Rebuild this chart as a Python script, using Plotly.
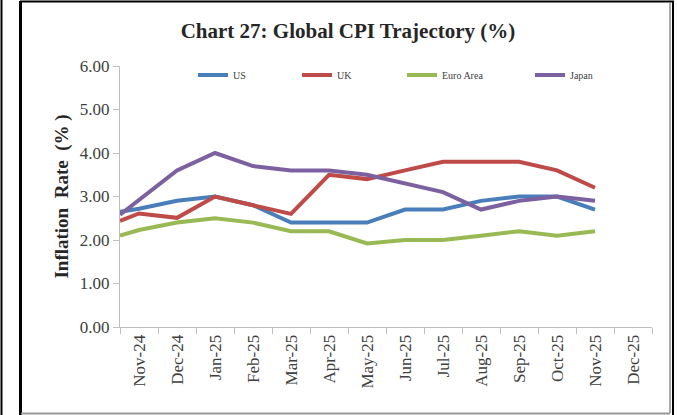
import plotly.graph_objects as go

categories = ["Nov-24", "Dec-24", "Jan-25", "Feb-25", "Mar-25", "Apr-25", "May-25",
              "Jun-25", "Jul-25", "Aug-25", "Sep-25", "Oct-25", "Nov-25", "Dec-25"]
# first value sits at the left edge of the axis (start of series), then Nov-24 .. Nov-25
point_pos = [-0.5, 0, 1, 2, 3, 4, 5, 6, 7, 8, 9, 10, 11, 12]
us = [2.65, 2.72, 2.90, 3.00, 2.80, 2.40, 2.40, 2.40, 2.70, 2.70, 2.90, 3.00, 3.00, 2.70]
uk = [2.44, 2.61, 2.51, 3.00, 2.80, 2.60, 3.50, 3.40, 3.60, 3.80, 3.80, 3.80, 3.60, 3.20]
euro = [2.10, 2.23, 2.40, 2.50, 2.40, 2.20, 2.20, 1.92, 2.00, 2.00, 2.10, 2.20, 2.10, 2.20]
japan = [2.58, 2.92, 3.60, 4.00, 3.70, 3.60, 3.60, 3.50, 3.30, 3.10, 2.70, 2.90, 3.00, 2.90]
y_ticks = [0, 1, 2, 3, 4, 5, 6]

W, H = 677, 415
ML, MR, MT, MB = 120, 25, 66, 88
PW, PH = W - ML - MR, H - MT - MB

def px(x):
    return (x - ML) / PW

def py(y):
    return (H - MB - y) / PH

series = [("US", us, "#4A7EBB", "legend"), ("UK", uk, "#BE4B48", "legend2"),
          ("Euro Area", euro, "#98B954", "legend3"), ("Japan", japan, "#7D60A0", "legend4")]

fig = go.Figure()
for name, vals, col, lg in series:
    fig.add_trace(go.Scatter(x=point_pos, y=vals, mode="lines", name=name, showlegend=True,
                             line=dict(color=col, width=4), legend=lg))

serif = "Liberation Serif"
leg_x = [193, 297, 402, 530]
leg_common = dict(orientation="h", yanchor="middle", xanchor="left", visible=True,
                  font=dict(family=serif, size=10, color="#404040"),
                  bgcolor="rgba(0,0,0,0)", itemwidth=30)
legs = {}
for i, key in enumerate(["legend", "legend2", "legend3", "legend4"]):
    legs[key] = dict(x=px(leg_x[i]), y=py(75), **leg_common)

shapes = [
    dict(type="line", xref="paper", yref="paper", x0=px(1.5), x1=px(1.5), y0=py(0), y1=py(415),
         line=dict(color="black", width=2)),
    dict(type="line", xref="paper", yref="paper", x0=px(20.5), x1=px(20.5), y0=py(1), y1=py(415),
         line=dict(color="black", width=3)),
    dict(type="line", xref="paper", yref="paper", x0=px(20), x1=px(674), y0=py(1.5), y1=py(1.5),
         line=dict(color="black", width=2)),
    dict(type="line", xref="paper", yref="paper", x0=px(670), x1=px(670), y0=py(3), y1=py(413),
         line=dict(color="#555555", width=1)),
    dict(type="line", xref="paper", yref="paper", x0=px(673), x1=px(673), y0=py(1), y1=py(415),
         line=dict(color="black", width=2)),
    dict(type="line", xref="paper", yref="paper", x0=px(21), x1=px(670), y0=py(413.5), y1=py(413.5),
         line=dict(color="#999999", width=2)),
]

fig.update_layout(
    width=W, height=H,
    margin=dict(l=ML, r=MR, t=MT, b=MB),
    paper_bgcolor="white", plot_bgcolor="white",
    showlegend=True,
    title=dict(text="<b>Chart 27: Global CPI Trajectory (%)</b>", x=348 / W, xanchor="center",
               y=1 - 31 / H, yanchor="middle", xref="container", yref="container",
               font=dict(family=serif, size=21, color="#262626")),
    shapes=shapes,
    **legs,
)

fig.update_xaxes(
    range=[-0.5, 13.5], tickvals=list(range(len(categories))), ticktext=categories,
    tickangle=-90, ticks="", showgrid=False, zeroline=False,
    showline=True, linecolor="#BFBFBF", linewidth=1,
    tickfont=dict(family=serif, size=17, color="#404040"),
    minor=dict(tickvals=[i - 0.5 for i in range(len(categories) + 1)], ticks="outside",
               ticklen=6, tickcolor="#BFBFBF", showgrid=False),
)
fig.update_yaxes(
    range=[0, 6], tickvals=y_ticks, tickformat=".2f", showgrid=False, zeroline=False,
    showline=True, linecolor="#BFBFBF", linewidth=1, ticks="outside", ticklen=6,
    tickcolor="#BFBFBF",
    tickfont=dict(family=serif, size=17, color="#404040"),
    title=dict(text="<b>Inflation  Rate  (% )</b>", font=dict(family=serif, size=19, color="#262626"),
               standoff=6),
)

fig.write_html("out.html", config={"displayModeBar": False},
               post_script="document.body.style.margin='0';")
